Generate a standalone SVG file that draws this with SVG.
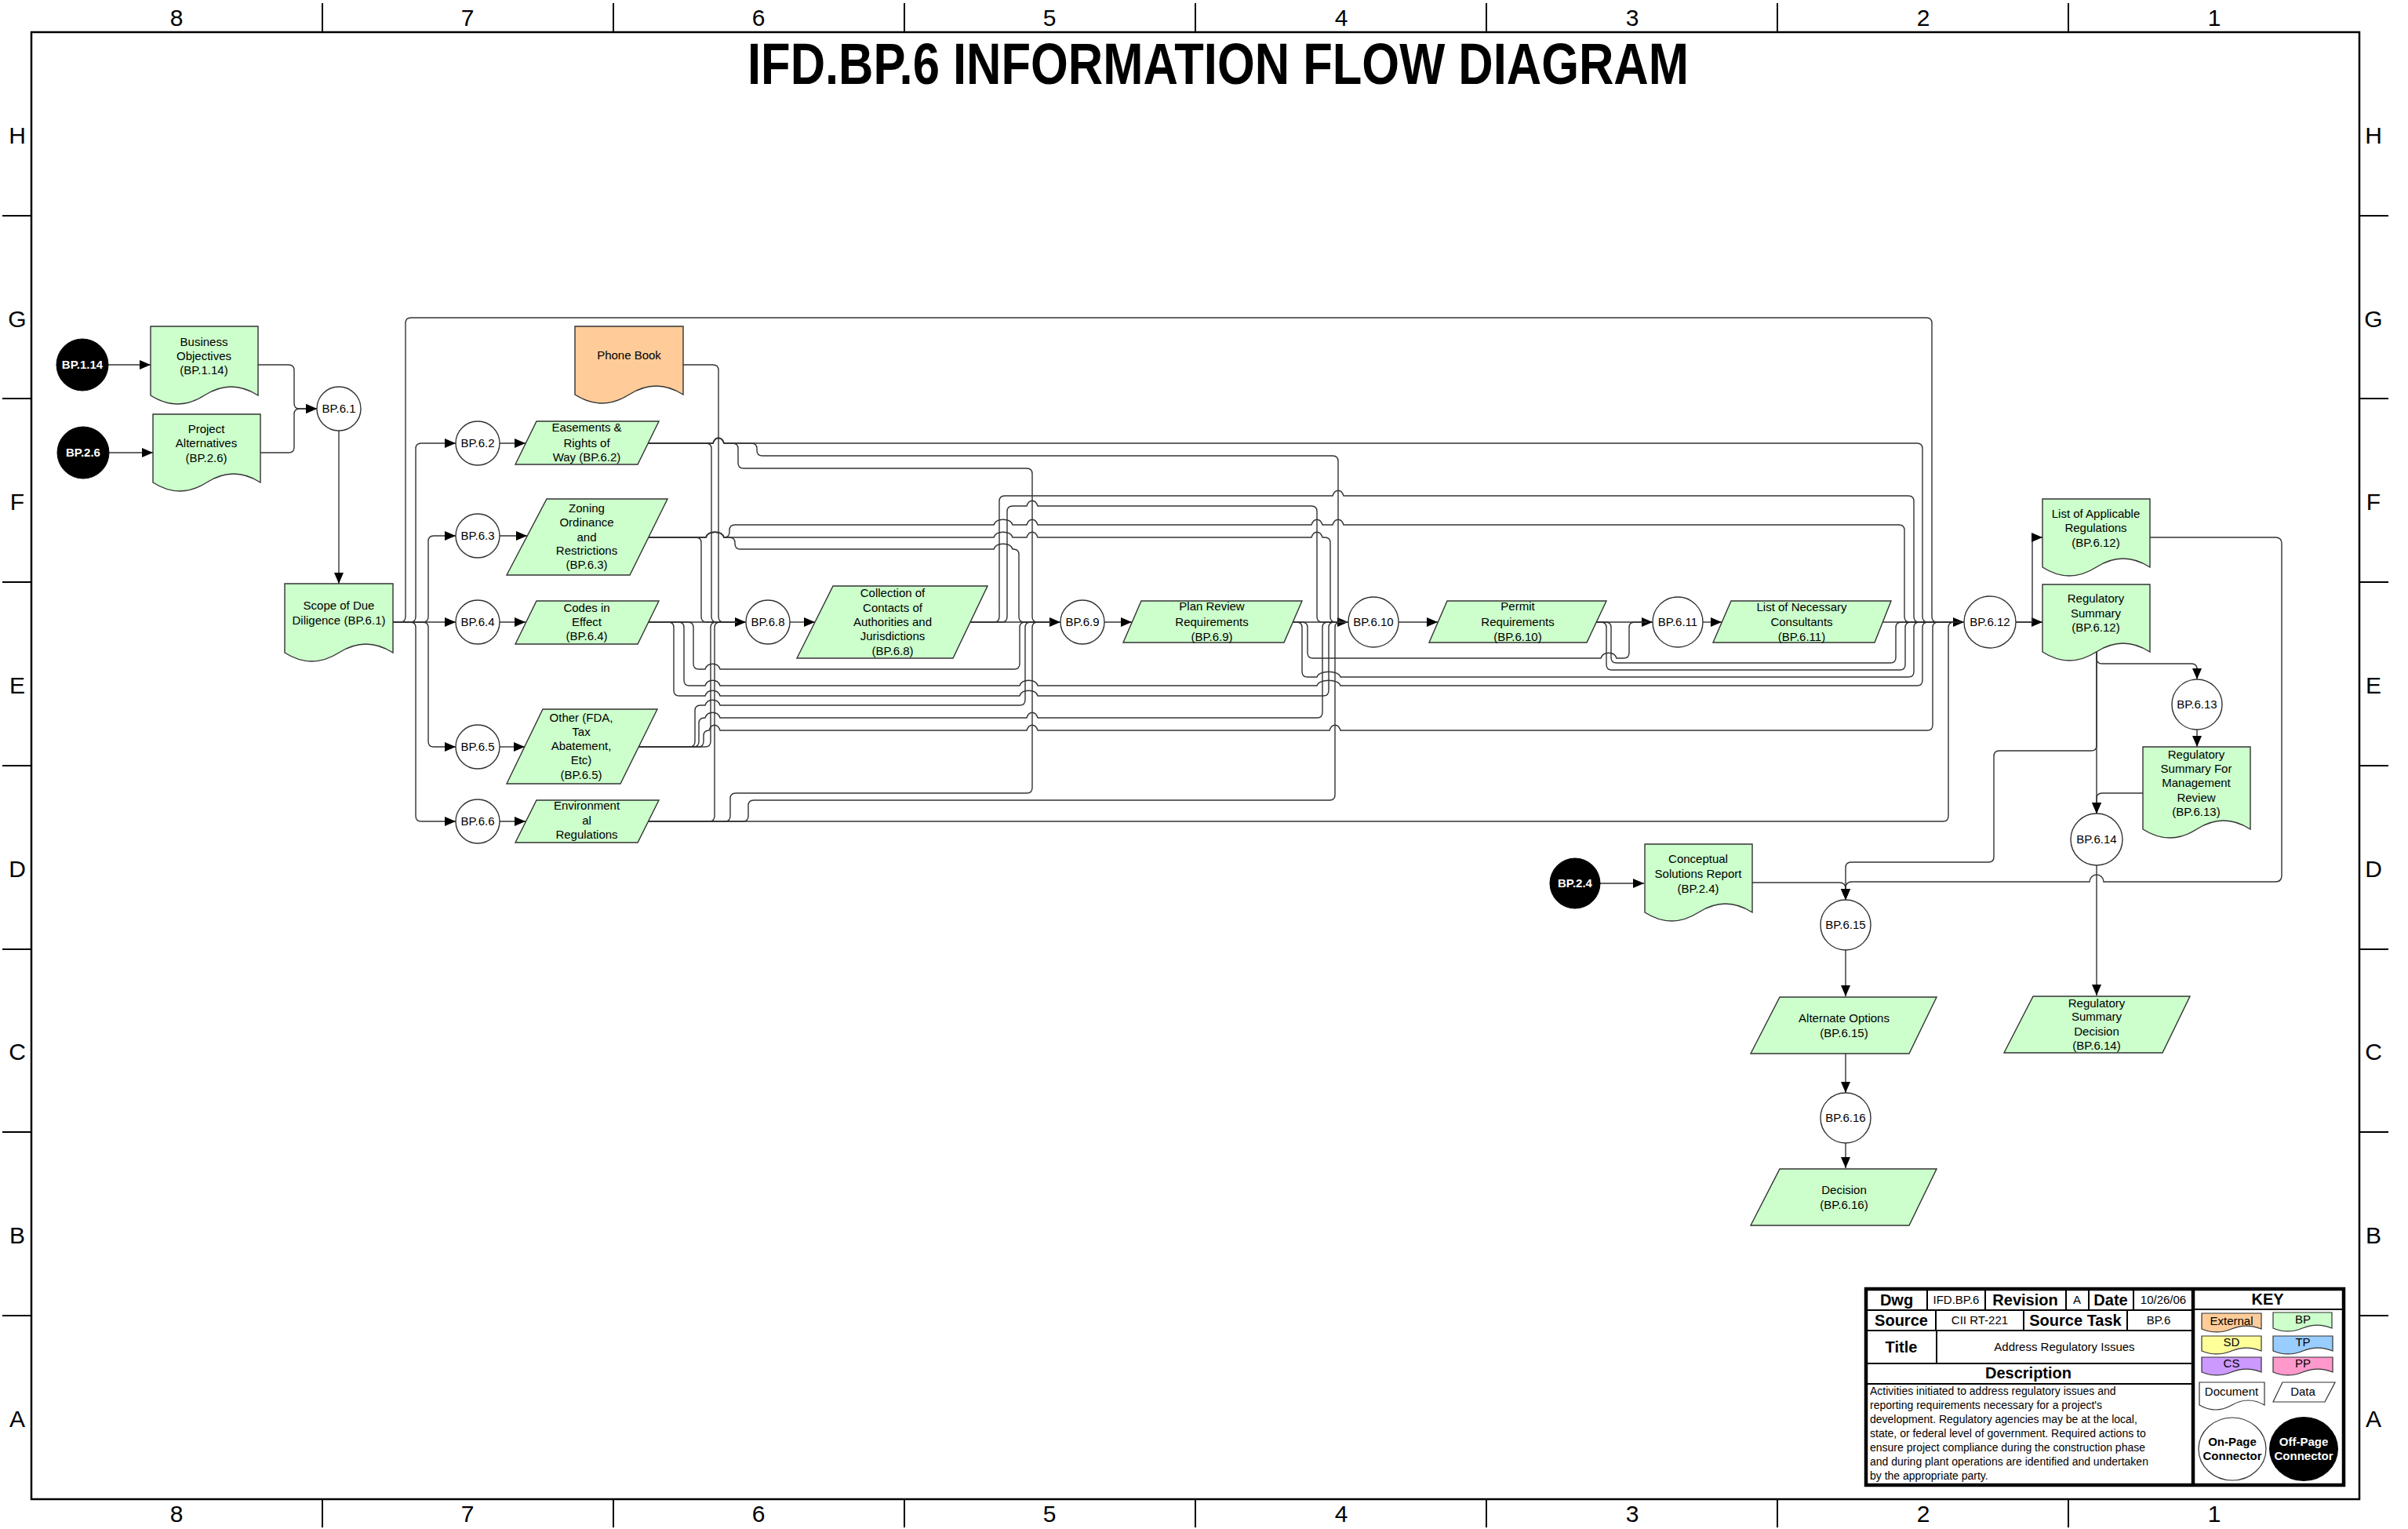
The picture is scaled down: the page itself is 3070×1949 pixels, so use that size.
<svg xmlns="http://www.w3.org/2000/svg" width="3070" height="1949" viewBox="0 0 3070 1949">
<defs>
<marker id="ah" viewBox="0 0 14 12" refX="14" refY="6" markerWidth="14" markerHeight="12" markerUnits="userSpaceOnUse" orient="auto"><path d="M0,0 L14,6 L0,12 z" fill="#000"/></marker>
<style>
.fr{fill:none;stroke:#000;stroke-width:2.5}
.tk{stroke:#000;stroke-width:2}
.n{fill:#CCFFCC;stroke:#333;stroke-width:1.4}
.ext{fill:#FFCC99;stroke:#333;stroke-width:1.4}
.c{fill:#fff;stroke:#333;stroke-width:1.4}
.k{fill:#000;stroke:#000}
.t{font-family:"Liberation Sans",Arial,sans-serif;font-size:15px;text-anchor:middle;fill:#000}
.wb{fill:#fff;font-weight:bold}
.ln{fill:none;stroke:#333;stroke-width:1.4}
.ar{marker-end:url(#ah)}
.lab{font-family:"Liberation Sans",Arial,sans-serif;font-size:30px;text-anchor:middle;fill:#000}
.tb{fill:none;stroke:#000;stroke-width:2}
.tbb{fill:none;stroke:#000;stroke-width:4.5}
.b20{font-family:"Liberation Sans",Arial,sans-serif;font-size:20px;font-weight:bold;text-anchor:middle}
.v15{font-family:"Liberation Sans",Arial,sans-serif;font-size:15px;text-anchor:middle}
.d14{font-family:"Liberation Sans",Arial,sans-serif;font-size:14px}
</style>
</defs>
<rect width="3070" height="1949" fill="#fff"/>
<g id="frame">
<rect class="fr" x="40" y="41" width="2968" height="1870"/>
<path class="tk" d="M411,4V41M782,4V41M1153,4V41M1524,4V41M1895,4V41M2266,4V41M2637,4V41M411,1911V1947M782,1911V1947M1153,1911V1947M1524,1911V1947M1895,1911V1947M2266,1911V1947M2637,1911V1947"/>
<path class="tk" d="M3,275H40M3,508H40M3,742H40M3,976H40M3,1210H40M3,1443H40M3,1677H40M3008,275H3045M3008,508H3045M3008,742H3045M3008,976H3045M3008,1210H3045M3008,1443H3045M3008,1677H3045"/>
<g class="lab">
<text x="225" y="33">8</text><text x="596" y="33">7</text><text x="967" y="33">6</text><text x="1338" y="33">5</text><text x="1710" y="33">4</text><text x="2081" y="33">3</text><text x="2452" y="33">2</text><text x="2823" y="33">1</text>
<text x="225" y="1940">8</text><text x="596" y="1940">7</text><text x="967" y="1940">6</text><text x="1338" y="1940">5</text><text x="1710" y="1940">4</text><text x="2081" y="1940">3</text><text x="2452" y="1940">2</text><text x="2823" y="1940">1</text>
<text x="22" y="183">H</text><text x="22" y="417">G</text><text x="22" y="650">F</text><text x="22" y="884">E</text><text x="22" y="1118">D</text><text x="22" y="1351">C</text><text x="22" y="1585">B</text><text x="22" y="1819">A</text>
<text x="3026" y="183">H</text><text x="3026" y="417">G</text><text x="3026" y="650">F</text><text x="3026" y="884">E</text><text x="3026" y="1118">D</text><text x="3026" y="1351">C</text><text x="3026" y="1585">B</text><text x="3026" y="1819">A</text>
</g>
<text x="1553" y="107" font-family="'Liberation Sans',Arial,sans-serif" font-size="74" font-weight="bold" text-anchor="middle" textLength="1200" lengthAdjust="spacingAndGlyphs">IFD.BP.6 INFORMATION FLOW DIAGRAM</text>
</g>

<g id="connectors">
<!-- inputs to BP.6.1 -->
<path class="ln ar" d="M138,465H192"/>
<path class="ln ar" d="M139,577H195"/>
<path class="ln ar" d="M329,465H368Q375,465 375,472V514Q375,521 382,521H404"/>
<path class="ln ar" d="M332,577H368Q375,577 375,570V528Q375,521 382,521H404"/>
<path class="ln ar" d="M432,549V744"/>
<!-- scope fan -->
<path class="ln ar" d="M501,793H523Q530,793 530,786V572Q530,565 537,565H581"/>
<path class="ln ar" d="M501,793H523Q530,793 530,800V1040Q530,1047 537,1047H581"/>
<path class="ln ar" d="M501,793H539Q546,793 546,786V690Q546,683 553,683H581"/>
<path class="ln ar" d="M501,793H539Q546,793 546,800V945Q546,952 553,952H581"/>
<path class="ln ar" d="M501,793H581"/>
<path class="ln" d="M501,793H510Q517,793 517,786V412Q517,405 524,405H2456Q2463,405 2463,412V786Q2463,793 2470,793H2490"/>
<!-- circle to data -->
<path class="ln ar" d="M637,565H670"/>
<path class="ln ar" d="M637,683H672"/>
<path class="ln ar" d="M637,793H670"/>
<path class="ln ar" d="M637,952H669"/>
<path class="ln ar" d="M637,1047H670"/>
<!-- main line -->
<path class="ln ar" d="M826,793H951"/>
<path class="ln ar" d="M1007,793H1039"/>
<path class="ln ar" d="M1237,793H1352"/>
<path class="ln ar" d="M1408,793H1443"/>
<path class="ln ar" d="M1648,793H1719"/>
<path class="ln ar" d="M1783,793H1833"/>
<path class="ln ar" d="M2035,793H2107"/>
<path class="ln ar" d="M2171,793H2195"/>
<path class="ln ar" d="M2400,793H2504"/>
<path class="ln ar" d="M2570,793H2604"/>
<path class="ln ar" d="M2570,793H2591V691Q2591,685 2597,685H2604"/>
<!-- phone book -->
<path class="ln" d="M871,465H909Q916,465 916,472V786Q916,793 923,793H940"/>
<!-- easements -->
<path class="ln" d="M826,565H900Q907,565 907,572V786Q907,793 914,793H940"/>
<path class="ln" d="M826,565H909C912,556 920,556 923,565H934Q941,565 941,572V590Q941,597 948,597H1309Q1316,597 1316,604V786Q1316,793 1323,793H1340"/>
<path class="ln" d="M826,565H909C912,556 920,556 923,565H958Q965,565 965,572V574Q965,581 972,581H1699Q1706,581 1706,588V786Q1706,793 1713,793H1719"/>
<path class="ln" d="M826,565H909C912,556 920,556 923,565H2444Q2451,565 2451,572V786Q2451,793 2458,793H2490"/>
<!-- zoning -->
<path class="ln" d="M827,685H887Q894,685 894,692V786Q894,793 901,793H940"/>
<path class="ln" d="M827,685H900C903,676 920,676 923,685H930Q937,685 937,692V693Q937,700 944,700H1267C1270,691 1288,691 1291,700H1292Q1299,700 1299,707V786Q1299,793 1306,793H1340"/>
<path class="ln" d="M827,685H900C903,676 920,676 923,685H1267C1270,676 1288,676 1291,685H1309C1312,676 1320,676 1323,685H1672C1675,676 1683,676 1686,685H1689Q1696,685 1696,692V786Q1696,793 1703,793H1719"/>
<path class="ln" d="M827,685H900C903,676 920,676 923,685Q930,685 930,678V676Q930,669 937,669H1267C1270,660 1288,660 1291,669H1309C1312,660 1320,660 1323,669H1672C1675,660 1683,660 1686,669H1699C1702,660 1710,660 1713,669H2421Q2428,669 2428,676V786Q2428,793 2435,793H2490"/>
<!-- codes -->
<path class="ln" d="M826,793H877Q884,793 884,800V846Q884,853 891,853H899C902,844 915,844 918,853H1293Q1300,853 1300,846V800Q1300,793 1307,793H1340"/>
<path class="ln" d="M826,793H852Q859,793 859,800V880Q859,887 866,887H899C902,878 915,878 918,887H1300C1303,878 1320,878 1323,887H1687Q1694,887 1694,880V800Q1694,793 1701,793H1719"/>
<path class="ln" d="M826,793H865Q872,793 872,800V867Q872,874 879,874H899C902,865 915,865 918,874H1300C1303,865 1320,865 1323,874H1679C1682,865 1706,865 1709,874H2444Q2451,874 2451,867V800Q2451,793 2458,793H2490"/>
<!-- other -->
<path class="ln" d="M814,952H899Q906,952 906,945V800Q906,793 913,793H940"/>
<path class="ln" d="M814,952H879Q886,952 886,945V906Q886,899 893,899H899C902,890 915,890 918,899H1300Q1307,899 1307,892V800Q1307,793 1314,793H1340"/>
<path class="ln" d="M814,952H884Q891,952 891,945V922Q891,915 898,915H899C902,906 915,906 918,915H1309C1312,906 1320,906 1323,915H1679Q1686,915 1686,908V800Q1686,793 1693,793H1719"/>
<path class="ln" d="M814,952H890Q897,952 897,945V938Q897,931 904,931C907,922 915,922 918,931H1309C1312,922 1320,922 1323,931H1695C1698,922 1706,922 1709,931H2457Q2464,931 2464,924V800Q2464,793 2471,793H2490"/>
<!-- environmental -->
<path class="ln" d="M826,1047H904Q911,1047 911,1040V800Q911,793 918,793H940"/>
<path class="ln" d="M826,1047H924Q931,1047 931,1040V1018Q931,1011 938,1011H1309Q1316,1011 1316,1004V800Q1316,793 1323,793H1340"/>
<path class="ln" d="M826,1047H947Q954,1047 954,1040V1027Q954,1020 961,1020H1695Q1702,1020 1702,1013V800Q1702,793 1709,793H1719"/>
<path class="ln" d="M826,1047H2477Q2484,1047 2484,1040V800Q2484,793 2491,793H2500"/>
<!-- collection -->
<path class="ln" d="M1237,793H1277Q1284,793 1284,786V652Q1284,645 1291,645H1309C1312,636 1320,636 1323,645H1672Q1679,645 1679,652V786Q1679,793 1686,793H1719"/>
<path class="ln" d="M1237,793H1267Q1274,793 1274,786V639Q1274,632 1281,632H1699C1702,623 1710,623 1713,632H2433Q2440,632 2440,639V786Q2440,793 2447,793H2490"/>
<!-- plan review -->
<path class="ln" d="M1648,793H1660Q1667,793 1667,800V832Q1667,839 1674,839H2041C2044,830 2058,830 2061,839H2070Q2077,839 2077,832V800Q2077,793 2084,793H2100"/>
<path class="ln" d="M1648,793H1653Q1660,793 1660,800V856Q1660,863 1667,863H1679C1682,854 1706,854 1709,863H2433Q2440,863 2440,856V800Q2440,793 2447,793H2490"/>
<!-- permit -->
<path class="ln" d="M2035,793H2047Q2054,793 2054,800V838Q2054,845 2061,845H2410Q2417,845 2417,838V800Q2417,793 2424,793H2490"/>
<path class="ln" d="M2035,793H2041Q2048,793 2048,800V847Q2048,854 2055,854H2422Q2429,854 2429,847V800Q2429,793 2436,793H2490"/>
<!-- right side -->
<path class="ln ar" d="M2741,685H2901Q2909,685 2909,693V1116Q2909,1124 2901,1124H2682A9,9 0 0 0 2664,1124H2361Q2353,1124 2353,1132V1147"/>
<path class="ln ar" d="M2234,1125H2345Q2353,1125 2353,1133V1147"/>
<path class="ln ar" d="M2673,831V839Q2673,846 2680,846H2794Q2801,846 2801,853V866"/>
<path class="ln ar" d="M2673,831V1037"/>
<path class="ln ar" d="M2673,831V950Q2673,957 2666,957H2549Q2542,957 2542,964V1092Q2542,1099 2535,1099H2360Q2353,1099 2353,1106V1147"/>
<path class="ln ar" d="M2732,1011H2680Q2673,1011 2673,1018V1037"/>
<path class="ln ar" d="M2801,930V952"/>
<path class="ln ar" d="M2673,1103V1269"/>
<path class="ln ar" d="M2353,1211V1270"/>
<path class="ln ar" d="M2353,1343V1393"/>
<path class="ln ar" d="M2353,1457V1489"/>
<path class="ln ar" d="M2040,1126H2096"/>
</g>

<g id="BP.1.14"><circle class="k" cx="105" cy="465" r="33"/><text class="t wb" x="105" y="470">BP.1.14</text></g>
<g id="BP.2.6"><circle class="k" cx="106" cy="577" r="33"/><text class="t wb" x="106" y="582">BP.2.6</text></g>
<g id="BP.2.4"><circle class="k" cx="2008" cy="1126" r="32"/><text class="t wb" x="2008" y="1131">BP.2.4</text></g>

<g id="doc-business-objectives"><path class="n" d="M192,416H329V504C306.2,489.4 283.3,489.4 260.5,504C237.7,518.6 214.8,518.6 192,504Z"/><text class="t"><tspan x="260" y="441">Business</tspan><tspan x="260" y="459">Objectives</tspan><tspan x="260" y="477">(BP.1.14)</tspan></text></g>
<g id="doc-project-alternatives"><path class="n" d="M195,528H332V615C309.2,600.4 286.3,600.4 263.5,615C240.7,629.6 217.8,629.6 195,615Z"/><text class="t"><tspan x="263" y="552">Project</tspan><tspan x="263" y="570">Alternatives</tspan><tspan x="263" y="589">(BP.2.6)</tspan></text></g>
<g id="BP.6.1"><circle class="c" cx="432" cy="521" r="28"/><text class="t" x="432" y="526">BP.6.1</text></g>
<g id="doc-scope"><path class="n" d="M363,744H501V832C478,817.4 455,817.4 432,832C409,846.6 386,846.6 363,832Z"/><text class="t"><tspan x="432" y="777">Scope of Due</tspan><tspan x="432" y="796">Diligence (BP.6.1)</tspan></text></g>
<g id="doc-phone-book"><path class="ext" d="M733,416H871V503C848,488.4 825,488.4 802,503C779,517.6 756,517.6 733,503Z"/><text class="t" x="802" y="458">Phone Book</text></g>

<g id="BP.6.2"><circle class="c" cx="609" cy="565" r="28"/><text class="t" x="609" y="570">BP.6.2</text></g>
<g id="BP.6.3"><circle class="c" cx="609" cy="683" r="28"/><text class="t" x="609" y="688">BP.6.3</text></g>
<g id="BP.6.4"><circle class="c" cx="609" cy="793" r="28"/><text class="t" x="609" y="798">BP.6.4</text></g>
<g id="BP.6.5"><circle class="c" cx="609" cy="952" r="28"/><text class="t" x="609" y="957">BP.6.5</text></g>
<g id="BP.6.6"><circle class="c" cx="609" cy="1047" r="28"/><text class="t" x="609" y="1052">BP.6.6</text></g>

<g id="data-easements"><polygon class="n" points="684,537 840,537 813,592 657,592"/><text class="t"><tspan x="748" y="550">Easements &amp;</tspan><tspan x="748" y="570">Rights of</tspan><tspan x="748" y="588">Way (BP.6.2)</tspan></text></g>
<g id="data-zoning"><polygon class="n" points="697,636 851,636 803,733 646,733"/><text class="t"><tspan x="748" y="653">Zoning</tspan><tspan x="748" y="671">Ordinance</tspan><tspan x="748" y="690">and</tspan><tspan x="748" y="707">Restrictions</tspan><tspan x="748" y="725">(BP.6.3)</tspan></text></g>
<g id="data-codes"><polygon class="n" points="684,766 840,766 813,821 657,821"/><text class="t"><tspan x="748" y="780">Codes in</tspan><tspan x="748" y="798">Effect</tspan><tspan x="748" y="816">(BP.6.4)</tspan></text></g>
<g id="data-other"><polygon class="n" points="692,904 838,904 791,999 646,999"/><text class="t"><tspan x="741" y="920">Other (FDA,</tspan><tspan x="741" y="938">Tax</tspan><tspan x="741" y="956">Abatement,</tspan><tspan x="741" y="974">Etc)</tspan><tspan x="741" y="993">(BP.6.5)</tspan></text></g>
<g id="data-environmental"><polygon class="n" points="684,1020 840,1020 813,1074 657,1074"/><text class="t"><tspan x="748" y="1032">Environment</tspan><tspan x="748" y="1051">al</tspan><tspan x="748" y="1069">Regulations</tspan></text></g>

<g id="BP.6.8"><circle class="c" cx="979" cy="793" r="28"/><text class="t" x="979" y="798">BP.6.8</text></g>
<g id="data-collection"><polygon class="n" points="1062,747 1259,747 1215,839 1016,839"/><text class="t"><tspan x="1138" y="761">Collection of</tspan><tspan x="1138" y="780">Contacts of</tspan><tspan x="1138" y="798">Authorities and</tspan><tspan x="1138" y="816">Jurisdictions</tspan><tspan x="1138" y="835">(BP.6.8)</tspan></text></g>
<g id="BP.6.9"><circle class="c" cx="1380" cy="793" r="28"/><text class="t" x="1380" y="798">BP.6.9</text></g>
<g id="data-plan-review"><polygon class="n" points="1455,766 1660,766 1637,819 1432,819"/><text class="t"><tspan x="1545" y="778">Plan Review</tspan><tspan x="1545" y="798">Requirements</tspan><tspan x="1545" y="817">(BP.6.9)</tspan></text></g>
<g id="BP.6.10"><circle class="c" cx="1751" cy="793" r="32"/><text class="t" x="1751" y="798">BP.6.10</text></g>
<g id="data-permit"><polygon class="n" points="1845,766 2048,766 2023,819 1822,819"/><text class="t"><tspan x="1935" y="778">Permit</tspan><tspan x="1935" y="798">Requirements</tspan><tspan x="1935" y="817">(BP.6.10)</tspan></text></g>
<g id="BP.6.11"><circle class="c" cx="2139" cy="793" r="32"/><text class="t" x="2139" y="798">BP.6.11</text></g>
<g id="data-consultants"><polygon class="n" points="2207,766 2411,766 2390,819 2184,819"/><text class="t"><tspan x="2297" y="779">List of Necessary</tspan><tspan x="2297" y="798">Consultants</tspan><tspan x="2297" y="817">(BP.6.11)</tspan></text></g>
<g id="BP.6.12"><circle class="c" cx="2537" cy="793" r="33"/><text class="t" x="2537" y="798">BP.6.12</text></g>

<g id="doc-list-applicable"><path class="n" d="M2604,636H2741V723C2718.2,708.4 2695.3,708.4 2672.5,723C2649.7,737.6 2626.8,737.6 2604,723Z"/><text class="t"><tspan x="2672" y="660">List of Applicable</tspan><tspan x="2672" y="678">Regulations</tspan><tspan x="2672" y="697">(BP.6.12)</tspan></text></g>
<g id="doc-regulatory-summary"><path class="n" d="M2604,745H2741V831C2718.2,816.4 2695.3,816.4 2672.5,831C2649.7,845.6 2626.8,845.6 2604,831Z"/><text class="t"><tspan x="2672" y="768">Regulatory</tspan><tspan x="2672" y="787">Summary</tspan><tspan x="2672" y="805">(BP.6.12)</tspan></text></g>
<g id="BP.6.13"><circle class="c" cx="2801" cy="898" r="32"/><text class="t" x="2801" y="903">BP.6.13</text></g>
<g id="doc-mgmt-review"><path class="n" d="M2732,952H2869V1057C2846.2,1042.4 2823.3,1042.4 2800.5,1057C2777.7,1071.6 2754.8,1071.6 2732,1057Z"/><text class="t"><tspan x="2800" y="967">Regulatory</tspan><tspan x="2800" y="985">Summary For</tspan><tspan x="2800" y="1003">Management</tspan><tspan x="2800" y="1022">Review</tspan><tspan x="2800" y="1040">(BP.6.13)</tspan></text></g>
<g id="BP.6.14"><circle class="c" cx="2673" cy="1070" r="33"/><text class="t" x="2673" y="1075">BP.6.14</text></g>
<g id="data-reg-decision"><polygon class="n" points="2592,1270 2792,1270 2757,1342 2555,1342"/><text class="t"><tspan x="2673" y="1284">Regulatory</tspan><tspan x="2673" y="1301">Summary</tspan><tspan x="2673" y="1320">Decision</tspan><tspan x="2673" y="1338">(BP.6.14)</tspan></text></g>
<g id="doc-conceptual"><path class="n" d="M2097,1076H2234V1163C2211.2,1148.4 2188.3,1148.4 2165.5,1163C2142.7,1177.6 2119.8,1177.6 2097,1163Z"/><text class="t"><tspan x="2165" y="1100">Conceptual</tspan><tspan x="2165" y="1119">Solutions Report</tspan><tspan x="2165" y="1138">(BP.2.4)</tspan></text></g>
<g id="BP.6.15"><circle class="c" cx="2353" cy="1179" r="32"/><text class="t" x="2353" y="1184">BP.6.15</text></g>
<g id="data-alternate"><polygon class="n" points="2269,1271 2469,1271 2434,1343 2232,1343"/><text class="t"><tspan x="2351" y="1303">Alternate Options</tspan><tspan x="2351" y="1322">(BP.6.15)</tspan></text></g>
<g id="BP.6.16"><circle class="c" cx="2353" cy="1425" r="32"/><text class="t" x="2353" y="1430">BP.6.16</text></g>
<g id="data-decision"><polygon class="n" points="2269,1490 2469,1490 2434,1562 2232,1562"/><text class="t"><tspan x="2351" y="1522">Decision</tspan><tspan x="2351" y="1541">(BP.6.16)</tspan></text></g>

<g id="title-block">
<rect x="2379" y="1643" width="609" height="250" fill="#fff" stroke="none"/>
<path class="tb" d="M2379,1670H2796M2379,1696H2796M2379,1738H2796M2379,1764H2796M2796,1669H2988M2457,1643V1670M2531,1643V1670M2634,1643V1670M2663,1643V1670M2720,1643V1670M2468,1670V1696M2580,1670V1696M2712,1670V1696M2469,1696V1738"/>
<path class="tbb" d="M2379,1643H2988V1893H2379ZM2796,1643V1893"/>
<text class="b20" x="2418" y="1664">Dwg</text>
<text class="v15" x="2494" y="1662">IFD.BP.6</text>
<text class="b20" x="2582" y="1664">Revision</text>
<text class="v15" x="2648" y="1662">A</text>
<text class="b20" x="2691" y="1664">Date</text>
<text class="v15" x="2758" y="1662">10/26/06</text>
<text class="b20" x="2424" y="1690">Source</text>
<text class="v15" x="2524" y="1688">CII RT-221</text>
<text class="b20" x="2646" y="1690">Source Task</text>
<text class="v15" x="2752" y="1688">BP.6</text>
<text class="b20" x="2424" y="1724">Title</text>
<text class="v15" x="2632" y="1722">Address Regulatory Issues</text>
<text class="b20" x="2586" y="1757">Description</text>
<text class="d14"><tspan x="2384" y="1778">Activities initiated to address regulatory issues and</tspan><tspan x="2384" y="1796">reporting requirements necessary for a project's</tspan><tspan x="2384" y="1814">development. Regulatory agencies may be at the local,</tspan><tspan x="2384" y="1832">state, or federal level of government. Required actions to</tspan><tspan x="2384" y="1850">ensure project compliance during the construction phase</tspan><tspan x="2384" y="1868">and during plant operations are identified and undertaken</tspan><tspan x="2384" y="1886">by the appropriate party.</tspan></text>
<text class="b20" x="2891" y="1663">KEY</text>
<path d="M2807,1674H2883V1694C2870.3,1688.7 2857.7,1688.7 2845,1694C2832.3,1699.3 2819.7,1699.3 2807,1694Z" fill="#FFCC99" stroke="#333" stroke-width="1.2"/>
<path d="M2898,1673H2973V1693C2960.5,1687.7 2948,1687.7 2935.5,1693C2923,1698.3 2910.5,1698.3 2898,1693Z" fill="#CCFFCC" stroke="#333" stroke-width="1.2"/>
<path d="M2807,1703H2883V1722C2870.3,1716.7 2857.7,1716.7 2845,1722C2832.3,1727.3 2819.7,1727.3 2807,1722Z" fill="#FFFF99" stroke="#333" stroke-width="1.2"/>
<path d="M2898,1703H2974V1722C2961.3,1716.7 2948.7,1716.7 2936,1722C2923.3,1727.3 2910.7,1727.3 2898,1722Z" fill="#99CCFF" stroke="#333" stroke-width="1.2"/>
<path d="M2807,1730H2883V1749C2870.3,1743.7 2857.7,1743.7 2845,1749C2832.3,1754.3 2819.7,1754.3 2807,1749Z" fill="#CC99FF" stroke="#333" stroke-width="1.2"/>
<path d="M2898,1730H2974V1749C2961.3,1743.7 2948.7,1743.7 2936,1749C2923.3,1754.3 2910.7,1754.3 2898,1749Z" fill="#FF99CC" stroke="#333" stroke-width="1.2"/>
<path d="M2804,1762H2887V1791C2873.2,1783 2859.3,1783 2845.5,1791C2831.7,1799 2817.8,1799 2804,1791Z" fill="#fff" stroke="#333" stroke-width="1.2"/>
<polygon points="2910,1762 2977,1762 2964,1787 2898,1787" fill="#fff" stroke="#333" stroke-width="1.2"/>
<text class="v15" x="2845" y="1689">External</text>
<text class="v15" x="2936" y="1687">BP</text>
<text class="v15" x="2845" y="1716">SD</text>
<text class="v15" x="2936" y="1716">TP</text>
<text class="v15" x="2845" y="1743">CS</text>
<text class="v15" x="2936" y="1743">PP</text>
<text class="v15" x="2845" y="1779">Document</text>
<text class="v15" x="2936" y="1779">Data</text>
<ellipse cx="2846" cy="1847" rx="43" ry="40" fill="#fff" stroke="#333" stroke-width="1.2"/>
<ellipse cx="2937" cy="1847" rx="44" ry="41" fill="#000"/>
<text class="v15" font-weight="bold"><tspan x="2846" y="1843">On-Page</tspan><tspan x="2846" y="1861">Connector</tspan></text>
<text class="v15" font-weight="bold" fill="#fff"><tspan x="2937" y="1843">Off-Page</tspan><tspan x="2937" y="1861">Connector</tspan></text>
</g>
</svg>
